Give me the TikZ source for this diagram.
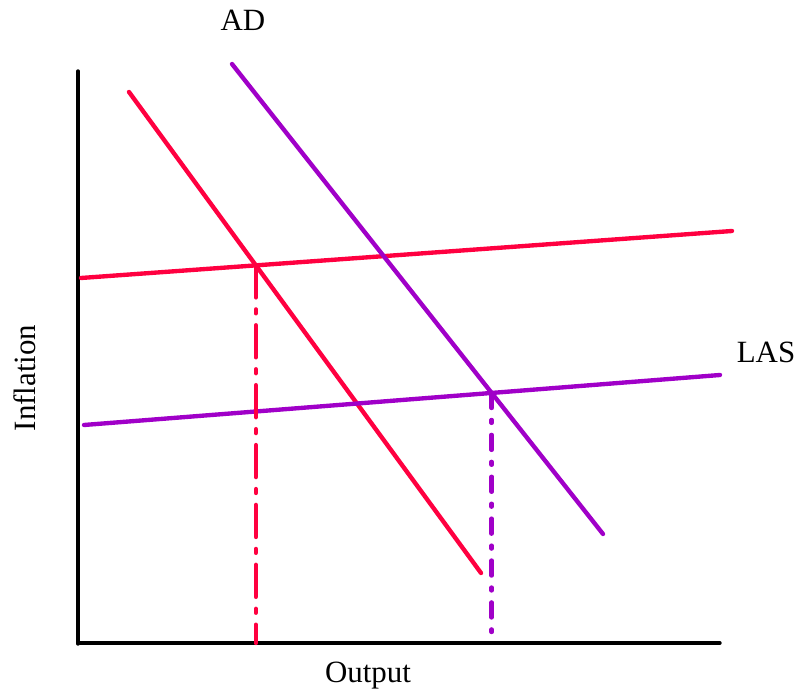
\documentclass[tikz,border=0pt]{standalone}
\usepackage{fontspec}
\setmainfont{Liberation Serif}
\usepackage{tikz}
\usetikzlibrary{calc, intersections}
\usepackage{tkz-euclide}
\definecolor{adred}{RGB}{255,0,64}
\definecolor{adpurple}{RGB}{160,0,200}

\begin{document}
\begin{tikzpicture}[font=\fontsize{22}{26}\selectfont]
      \useasboundingbox (0,0) rectangle (20,17.375);
      % 1. 座標軸
      \tkzDefPoint(1.95,15.6){T}
      \tkzDefPoint(1.95,1.275){O}
      \tkzDefPoint(2.0,1.3){O_x}
      \tkzDefPoint(18.0,1.3){X}

      % 2. 兩條 AD 線
      \tkzDefPoint(3.225,15.075){A_1}
      \tkzDefPoint(12.025,3.05){B_1}
      \tkzDefPoint(5.8,15.775){A_2}
      \tkzDefPoint(15.075,4.025){B_2}

      % 3. 兩條 LAS 線
      \tkzDefPoint(2.025,10.425){C_1}
      \tkzDefPoint(18.3,11.6){D_1}
      \tkzDefPoint(2.1,6.75){C_2}
      \tkzDefPoint(18.0,8.0){D_2}

      % 4. 找到 AD 與 LAS 的交點 E
      \tkzInterLL(A_1,B_1)(C_1,D_1) \tkzGetPoint{E_1}
      \tkzInterLL(A_2,B_2)(C_2,D_2) \tkzGetPoint{E_2}

      % 5. 找到 E 在 Output 軸上的投影點
      \tkzDefPointBy[projection = onto O_x--X](E_1) \tkzGetPoint{F_1}
      \coordinate (F_2) at ($(E_2|-O_x)+(0,0.275)$);

      \tkzDrawSegments[black, line width=2.4pt](T,O O_x,X)
      \tkzDrawSegments[adred, line width=3.1pt](A_1,B_1 C_1,D_1)
      \tkzDrawSegments[adpurple, line width=3.1pt](A_2,B_2 C_2,D_2)
      \tkzDrawSegment[adred, line width=3.1pt, dash pattern=on 22.8pt off 8.5pt on 2.8pt off 8.5pt](E_1,F_1)
      \tkzDrawSegment[adpurple, line width=3.1pt, dash pattern=on 10.7pt off 8.5pt on 2.1pt off 8.5pt](E_2,F_2)

      \node (ad) at (6.075,16.875) {AD};
      \node (las) at (19.15,8.575) {LAS};
      \node (output) at (9.2,0.475) {Output};
      \node[rotate=90] (inflation) at (0.625,7.925) {Inflation};
\end{tikzpicture}
\end{document}
